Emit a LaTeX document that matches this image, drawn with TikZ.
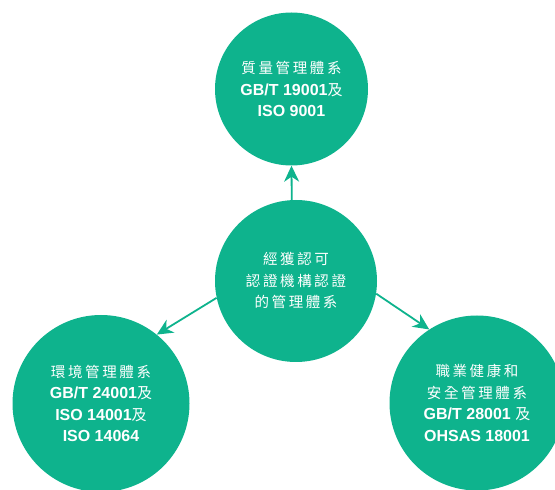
\documentclass[tikz,border=0pt]{standalone}
\usepackage{fontspec}
\setmainfont{Liberation Sans}
\newfontfamily\cjk[LetterSpace=18]{Noto Sans CJK TC}
\newfontfamily\cjkn{Noto Sans CJK TC}
\usetikzlibrary{arrows.meta}
\definecolor{brandgreen}{RGB}{14,179,141}
\newcommand{\zh}[1]{{\cjk\mdseries\fontsize{14.5}{21.5}\selectfont #1}}
\newcommand{\zhn}[1]{{\cjkn\mdseries\fontsize{15}{21.5}\selectfont #1}}
\tikzset{
  bubble/.style={circle, fill=brandgreen, inner sep=0pt, text=white, align=center,
    font=\fontsize{16}{21.5}\selectfont\bfseries},
  link/.style={draw=brandgreen, line width=1.8pt,
    -{Stealth[length=16pt,width=15pt,inset=5pt]}}
}
\begin{document}
\begin{tikzpicture}[x=1pt,y=1pt]
\useasboundingbox (0,0) rectangle (555,490);
\clip (0,0) rectangle (555,490);
\node[bubble, minimum size=153pt] (t) at (291.5,401)
  {\zh{質量管理體系}\\GB/T 19001\zhn{及}\\ISO 9001};
\node[bubble, minimum size=162pt] (c) at (296,209)
  {\zh{經獲認可}\\\zh{認證機構認證}\\\zh{的管理體系}};
\node[bubble, minimum size=177pt] (l) at (101,86.5)
  {\zh{環境管理體系}\\GB/T 24001\zhn{及}\\ISO 14001\zhn{及}\\ISO 14064};
\node[bubble, minimum size=175pt] (r) at (477,87)
  {\zh{職業健康和}\\\zh{安全管理體系}\\GB/T 28001 \zhn{及}\\OHSAS 18001};
\draw[link] (c.93) -- (t.270);
\draw[link] (c.192) -- (l.51);
\draw[link] (c.351) -- (r.123.5);
\end{tikzpicture}
\end{document}
